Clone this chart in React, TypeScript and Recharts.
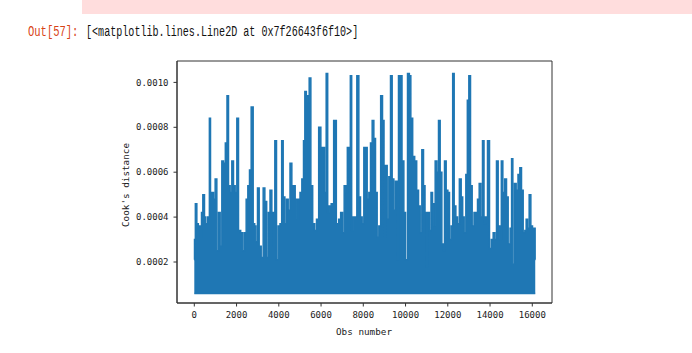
import { ComposedChart, Area, XAxis, YAxis, ReferenceArea } from 'recharts';

// observation index and Cook's distance, traced along the upper edge of the trace
const obsNumbers = [
  0, 20, 80, 160, 222, 317, 365, 443, 522, 570, 700, 728, 806, 869, 948, 1027, 1106, 1185, 1264, 1343,
  1422, 1516, 1580, 1658, 1737, 1816, 1895, 1974, 2053, 2132, 2258, 2337, 2416, 2495, 2574, 2653, 2732, 2842,
  2874, 2953, 3032, 3111, 3221, 3300, 3379, 3474, 3537, 3631, 3710, 3773, 3852, 3931, 4010, 4105, 4168,
  4247, 4326, 4405, 4484, 4578, 4657, 4736, 4815, 4894, 4957, 5052, 5131, 5209, 5257, 5351, 5399, 5478,
  5557, 5651, 5746, 5825, 5951, 6030, 6125, 6204, 6283, 6346, 6425, 6535, 6660,
  6787, 6882, 6976, 7055, 7134, 7213, 7276, 7355, 7418, 7481, 7560, 7639, 7750, 7828, 7907, 7986, 8065,
  8144, 8223, 8302, 8381, 8460, 8539, 8617, 8696, 8775, 8870, 8949, 9012, 9091, 9170, 9249, 9328, 9406,
  9485, 9564, 9643, 9690, 9737, 9785, 9880, 9959, 10038, 10150, 10210, 10290,
  10385, 10480, 10575, 10654, 10732, 10811, 10890, 10953, 11016, 11080, 11174, 11237, 11316, 11364, 11442,
  11521, 11600, 11679, 11758, 11805, 11884, 11963, 12042, 12121, 12200, 12263, 12342, 12421, 12500, 12595,
  12673, 12736, 12815, 12894, 12957, 13036, 13115, 13194, 13289, 13368, 13447, 13526, 13604, 13683, 13746,
  13825, 13935, 14014, 14109, 14188, 14266, 14345, 14424, 14503, 14566, 14645, 14740, 14819, 14898, 15000,
  15040, 15118, 15197, 15276, 15371, 15450, 15529, 15608, 15686, 15734, 15813, 15892, 15971, 16050, 16128, 16140,
];

const cookValues = [
  0.00021, 0.0003, 0.00046, 0.00037, 0.00036, 0.00031, 0.00042, 0.0005, 0.0004, 0.00037, 0.0004, 0.00084, 0.00048, 0.00051, 0.00048, 0.00057, 0.00025, 0.00042, 0.00027, 0.00065,
  0.00064, 0.00073, 0.00094, 0.00054, 0.00051, 0.00065, 0.00054, 0.00051, 0.00084, 0.00034, 0.00033, 0.00025, 0.00033, 0.00048, 0.00054, 0.00061, 0.00089, 0.00037,
  0.00036, 0.00029, 0.00053, 0.00027, 0.00022, 0.00053, 0.00047, 0.00022, 0.00042, 0.00052, 0.00042, 0.00027, 0.00074, 0.00021, 0.00036, 0.00037, 0.00074,
  0.00049, 0.00037, 0.00048, 0.00043, 0.00064, 0.00054, 0.00054, 0.00048, 0.00039, 0.00048, 0.00051, 0.00057, 0.00074, 0.00096, 0.00094, 0.00091, 0.00102,
  0.00054, 0.00037, 0.00034, 0.00039, 0.0008, 0.00071, 0.00071, 0.00051, 0.00104, 0.00042, 0.00045, 0.00046, 0.00083,
  0.00037, 0.00039, 0.00042, 0.00033, 0.00054, 0.00051, 0.00071, 0.00062, 0.00103, 0.00034, 0.0004, 0.0004, 0.00103, 0.00049, 0.0004, 0.00037, 0.00071,
  0.00071, 0.00048, 0.00051, 0.00073, 0.00083, 0.00075, 0.00051, 0.00031, 0.00036, 0.00094, 0.00083, 0.00031, 0.00063, 0.00039, 0.00058, 0.00103, 0.00057,
  0.00043, 0.00056, 0.00021, 0.00103, 0.0007, 0.00103, 0.00065, 0.00042, 0.00021, 0.00104, 0.00103, 0.00084,
  0.00067, 0.00065, 0.00052, 0.00045, 0.00033, 0.0007, 0.00054, 0.00042, 0.00018, 0.00042, 0.00034, 0.00051, 0.00046, 0.00036, 0.00065,
  0.0006, 0.00083, 0.0006, 0.00028, 0.00025, 0.00065, 0.00052, 0.00051, 0.0003, 0.00036, 0.00104, 0.00045, 0.0004, 0.00037, 0.00057,
  0.00049, 0.0004, 0.00033, 0.00059, 0.00092, 0.00103, 0.00054, 0.00036, 0.00042, 0.00042, 0.00048, 0.00055, 0.0004, 0.00074, 0.00037,
  0.0004, 0.00074, 0.00026, 0.0003, 0.00033, 0.0003, 0.00065, 0.00036, 0.0003, 0.00065, 0.00051, 0.00057, 0.00049, 0.00028, 0.00035,
  0.00066, 0.00019, 0.00055, 0.00052, 0.00059, 0.00062, 0.00052, 0.00033, 0.00034, 0.00039, 0.00035, 0.0005, 0.00036, 0.00035, 0.00035, 0.00021,
];

// the dense zig-zag never drops below this level
const FLOOR = 0.00006;

const xTicks = [0, 2000, 4000, 6000, 8000, 10000, 12000, 14000, 16000];
const yTicks = [0.0002, 0.0004, 0.0006, 0.0008, 0.001];
const X_DOMAIN = [-819, 16933];
const Y_DOMAIN = [0.0000174, 0.0010953];

const data = obsNumbers.map((obs, i) => ({ obs, cook: cookValues[i] }));

const BLUE = '#1f77b4';
const SPINE = '#333';
const tickStyle = { fontSize: 9, fontFamily: 'DejaVu Sans Mono', fill: '#222' };

export default function App() {
  return (
    <div style={{ position: 'absolute', left: 0, top: 0, width: 692, height: 353, background: '#fff', overflow: 'hidden' }}>
      <div style={{ position: 'absolute', left: 82, top: 0, width: 610, height: 14, background: '#fdd' }} />
      <div
        style={{
          position: 'absolute', left: 28, top: 24, fontFamily: 'Liberation Mono', fontSize: 14, lineHeight: '16px',
          color: '#D84315', transform: 'scaleX(0.75)', transformOrigin: 'left', whiteSpace: 'nowrap',
        }}
      >
        Out[57]:
      </div>
      <div
        style={{
          position: 'absolute', left: 86, top: 24, fontFamily: 'Liberation Mono', fontSize: 14, lineHeight: '16px',
          color: '#111', transform: 'scaleX(0.72)', transformOrigin: 'left', whiteSpace: 'nowrap',
        }}
      >
        [&lt;matplotlib.lines.Line2D at 0x7f26643f6f10&gt;]
      </div>

      <div style={{ position: 'absolute', left: 0, top: 0 }}>
        <ComposedChart width={692} height={353} data={data} margin={{ top: 61, right: 140, bottom: 20, left: 117 }}>
          <XAxis
            xAxisId="b"
            type="number"
            dataKey="obs"
            domain={X_DOMAIN}
            allowDataOverflow
            ticks={xTicks}
            interval={0}
            height={30}
            tickSize={3.5}
            tickMargin={5}
            tick={tickStyle}
            stroke={SPINE}
          />
          <YAxis
            yAxisId="l"
            type="number"
            domain={Y_DOMAIN}
            allowDataOverflow
            ticks={yTicks}
            interval={0}
            width={60}
            tickSize={3.5}
            tickMargin={5}
            tick={tickStyle}
            tickFormatter={(v: number) => v.toFixed(4)}
            stroke={SPINE}
          />
          <Area
            xAxisId="b"
            yAxisId="l"
            type="step"
            dataKey={(d: { cook: number }) => [FLOOR, d.cook]}
            stroke={BLUE}
            strokeWidth={1.5}
            fill={BLUE}
            fillOpacity={1}
            dot={false}
            activeDot={false}
            isAnimationActive={false}
          />
          {/* axes frame (top and right spines) */}
          <ReferenceArea
            xAxisId="b"
            yAxisId="l"
            x1={X_DOMAIN[0]}
            x2={X_DOMAIN[1]}
            y1={Y_DOMAIN[0]}
            y2={Y_DOMAIN[1]}
            fill="none"
            stroke={SPINE}
            strokeWidth={1}
            ifOverflow="visible"
          />
        </ComposedChart>
      </div>

      <div style={{ position: 'absolute', left: 364, top: 331, transform: 'translate(-50%, -50%)', fontFamily: 'DejaVu Sans Mono', fontSize: 9.3, color: '#222', whiteSpace: 'nowrap' }}>
        Obs number
      </div>
      <div
        style={{
          position: 'absolute', left: 125, top: 185, transform: 'translate(-50%, -50%) rotate(-90deg)',
          fontFamily: 'DejaVu Sans Mono', fontSize: 9.3, color: '#222', whiteSpace: 'nowrap',
        }}
      >
        Cook's distance
      </div>
    </div>
  );
}
